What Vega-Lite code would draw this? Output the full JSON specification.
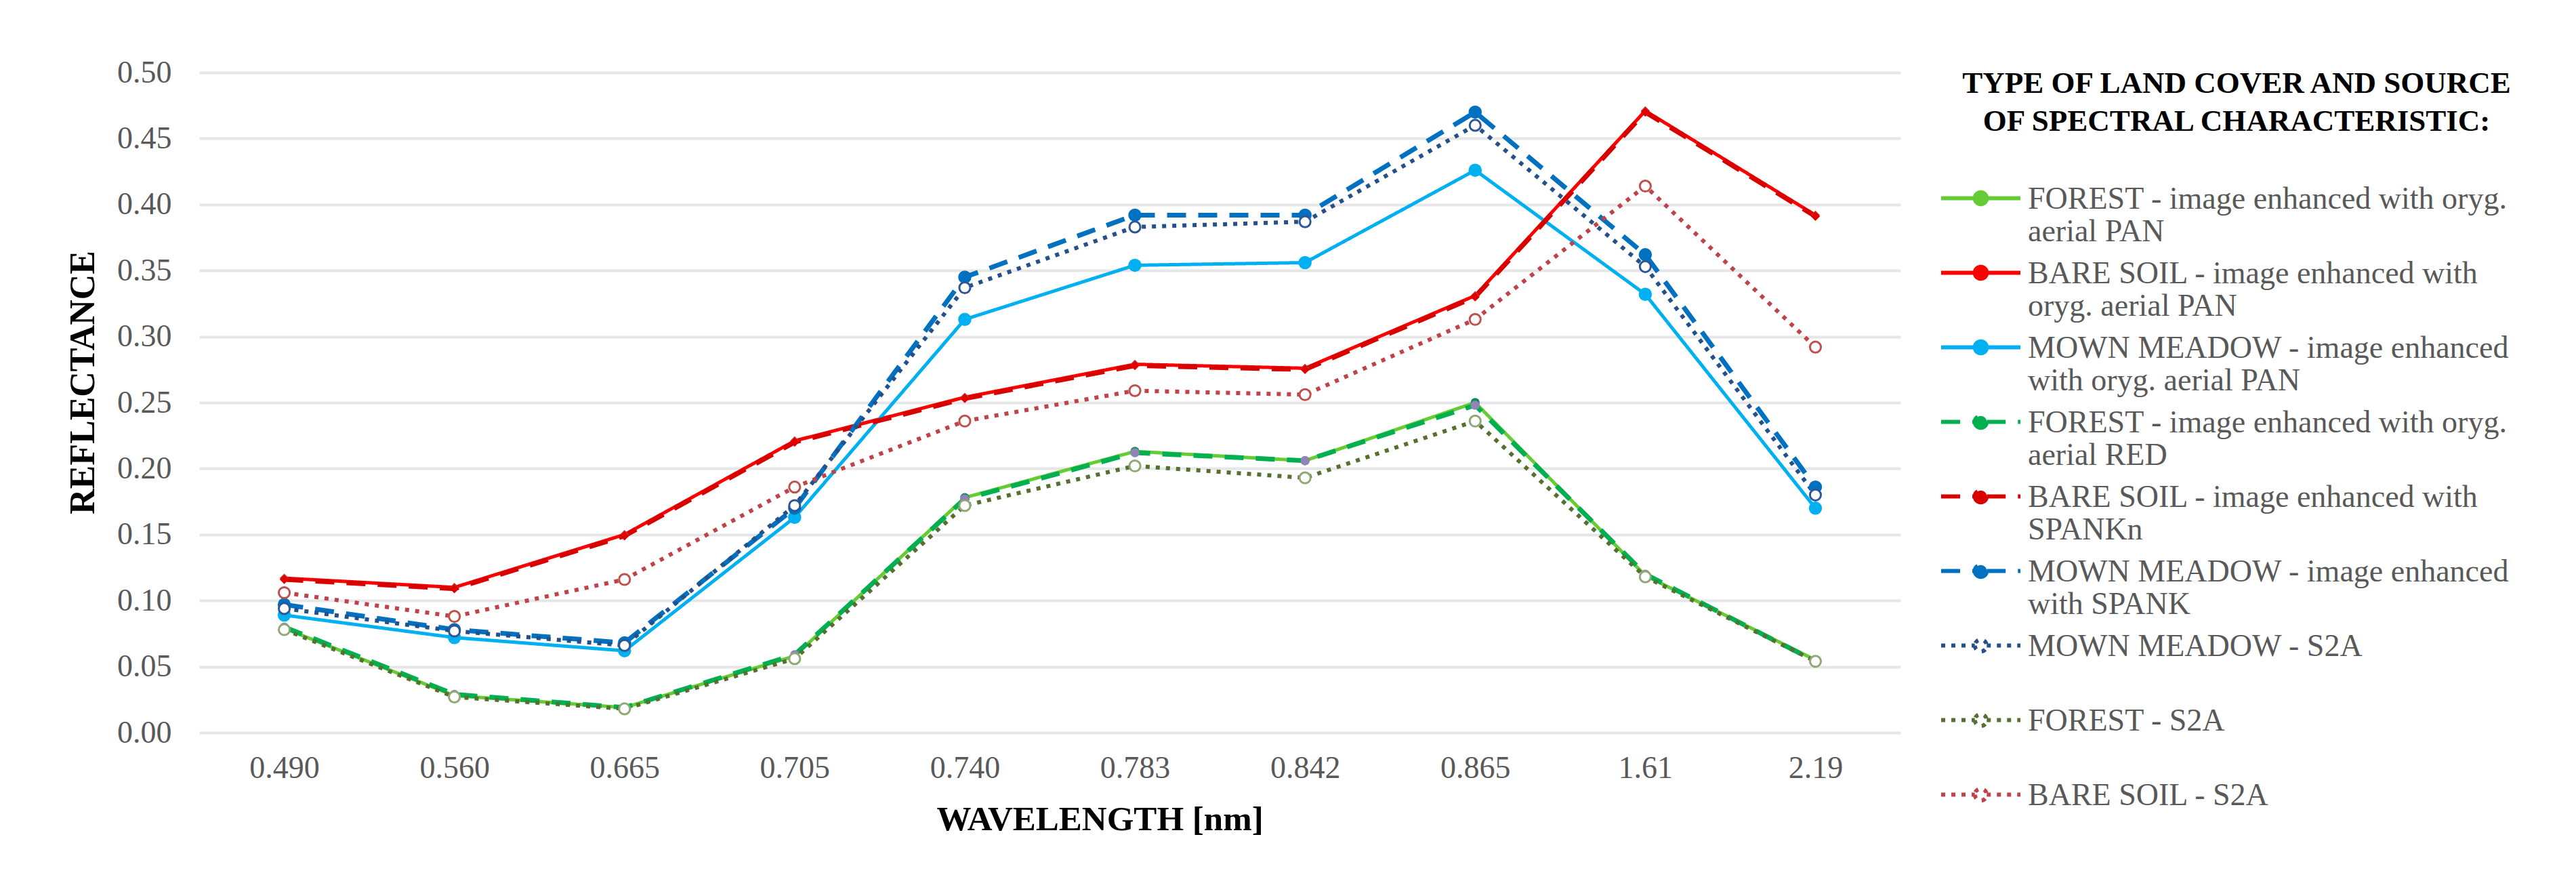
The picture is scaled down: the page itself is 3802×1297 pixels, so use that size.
{
  "$schema": "https://vega.github.io/schema/vega-lite/v6.json",
  "width": 2511,
  "height": 974,
  "autosize": {"type": "none"},
  "padding": {"left": 294, "top": 107, "right": 997, "bottom": 216},
  "background": "white",
  "config": {"view": {"stroke": null}, "font": "Liberation Serif"},
  "datasets": {
    "d": [
      {"wl": "0.490", "series": "FOREST - image enhanced with oryg.|aerial PAN", "r": 0.079},
      {"wl": "0.560", "series": "FOREST - image enhanced with oryg.|aerial PAN", "r": 0.028},
      {"wl": "0.665", "series": "FOREST - image enhanced with oryg.|aerial PAN", "r": 0.019},
      {"wl": "0.705", "series": "FOREST - image enhanced with oryg.|aerial PAN", "r": 0.058},
      {"wl": "0.740", "series": "FOREST - image enhanced with oryg.|aerial PAN", "r": 0.178},
      {"wl": "0.783", "series": "FOREST - image enhanced with oryg.|aerial PAN", "r": 0.213},
      {"wl": "0.842", "series": "FOREST - image enhanced with oryg.|aerial PAN", "r": 0.206},
      {"wl": "0.865", "series": "FOREST - image enhanced with oryg.|aerial PAN", "r": 0.250},
      {"wl": "1.61", "series": "FOREST - image enhanced with oryg.|aerial PAN", "r": 0.119},
      {"wl": "2.19", "series": "FOREST - image enhanced with oryg.|aerial PAN", "r": 0.055},

      {"wl": "0.490", "series": "BARE SOIL - image enhanced with|oryg. aerial PAN", "r": 0.117},
      {"wl": "0.560", "series": "BARE SOIL - image enhanced with|oryg. aerial PAN", "r": 0.110},
      {"wl": "0.665", "series": "BARE SOIL - image enhanced with|oryg. aerial PAN", "r": 0.150},
      {"wl": "0.705", "series": "BARE SOIL - image enhanced with|oryg. aerial PAN", "r": 0.221},
      {"wl": "0.740", "series": "BARE SOIL - image enhanced with|oryg. aerial PAN", "r": 0.254},
      {"wl": "0.783", "series": "BARE SOIL - image enhanced with|oryg. aerial PAN", "r": 0.279},
      {"wl": "0.842", "series": "BARE SOIL - image enhanced with|oryg. aerial PAN", "r": 0.276},
      {"wl": "0.865", "series": "BARE SOIL - image enhanced with|oryg. aerial PAN", "r": 0.331},
      {"wl": "1.61", "series": "BARE SOIL - image enhanced with|oryg. aerial PAN", "r": 0.471},
      {"wl": "2.19", "series": "BARE SOIL - image enhanced with|oryg. aerial PAN", "r": 0.392},

      {"wl": "0.490", "series": "MOWN MEADOW - image enhanced|with oryg. aerial PAN", "r": 0.089},
      {"wl": "0.560", "series": "MOWN MEADOW - image enhanced|with oryg. aerial PAN", "r": 0.072},
      {"wl": "0.665", "series": "MOWN MEADOW - image enhanced|with oryg. aerial PAN", "r": 0.062},
      {"wl": "0.705", "series": "MOWN MEADOW - image enhanced|with oryg. aerial PAN", "r": 0.163},
      {"wl": "0.740", "series": "MOWN MEADOW - image enhanced|with oryg. aerial PAN", "r": 0.313},
      {"wl": "0.783", "series": "MOWN MEADOW - image enhanced|with oryg. aerial PAN", "r": 0.354},
      {"wl": "0.842", "series": "MOWN MEADOW - image enhanced|with oryg. aerial PAN", "r": 0.356},
      {"wl": "0.865", "series": "MOWN MEADOW - image enhanced|with oryg. aerial PAN", "r": 0.426},
      {"wl": "1.61", "series": "MOWN MEADOW - image enhanced|with oryg. aerial PAN", "r": 0.332},
      {"wl": "2.19", "series": "MOWN MEADOW - image enhanced|with oryg. aerial PAN", "r": 0.170},

      {"wl": "0.490", "series": "FOREST - image enhanced with oryg.|aerial RED", "r": 0.080},
      {"wl": "0.560", "series": "FOREST - image enhanced with oryg.|aerial RED", "r": 0.029},
      {"wl": "0.665", "series": "FOREST - image enhanced with oryg.|aerial RED", "r": 0.019},
      {"wl": "0.705", "series": "FOREST - image enhanced with oryg.|aerial RED", "r": 0.059},
      {"wl": "0.740", "series": "FOREST - image enhanced with oryg.|aerial RED", "r": 0.177},
      {"wl": "0.783", "series": "FOREST - image enhanced with oryg.|aerial RED", "r": 0.212},
      {"wl": "0.842", "series": "FOREST - image enhanced with oryg.|aerial RED", "r": 0.206},
      {"wl": "0.865", "series": "FOREST - image enhanced with oryg.|aerial RED", "r": 0.248},
      {"wl": "1.61", "series": "FOREST - image enhanced with oryg.|aerial RED", "r": 0.120},
      {"wl": "2.19", "series": "FOREST - image enhanced with oryg.|aerial RED", "r": 0.054},

      {"wl": "0.490", "series": "BARE SOIL - image enhanced with|SPANKn", "r": 0.116},
      {"wl": "0.560", "series": "BARE SOIL - image enhanced with|SPANKn", "r": 0.109},
      {"wl": "0.665", "series": "BARE SOIL - image enhanced with|SPANKn", "r": 0.149},
      {"wl": "0.705", "series": "BARE SOIL - image enhanced with|SPANKn", "r": 0.220},
      {"wl": "0.740", "series": "BARE SOIL - image enhanced with|SPANKn", "r": 0.253},
      {"wl": "0.783", "series": "BARE SOIL - image enhanced with|SPANKn", "r": 0.278},
      {"wl": "0.842", "series": "BARE SOIL - image enhanced with|SPANKn", "r": 0.275},
      {"wl": "0.865", "series": "BARE SOIL - image enhanced with|SPANKn", "r": 0.330},
      {"wl": "1.61", "series": "BARE SOIL - image enhanced with|SPANKn", "r": 0.470},
      {"wl": "2.19", "series": "BARE SOIL - image enhanced with|SPANKn", "r": 0.391},

      {"wl": "0.490", "series": "MOWN MEADOW - image enhanced|with SPANK", "r": 0.097},
      {"wl": "0.560", "series": "MOWN MEADOW - image enhanced|with SPANK", "r": 0.078},
      {"wl": "0.665", "series": "MOWN MEADOW - image enhanced|with SPANK", "r": 0.068},
      {"wl": "0.705", "series": "MOWN MEADOW - image enhanced|with SPANK", "r": 0.170},
      {"wl": "0.740", "series": "MOWN MEADOW - image enhanced|with SPANK", "r": 0.345},
      {"wl": "0.783", "series": "MOWN MEADOW - image enhanced|with SPANK", "r": 0.392},
      {"wl": "0.842", "series": "MOWN MEADOW - image enhanced|with SPANK", "r": 0.392},
      {"wl": "0.865", "series": "MOWN MEADOW - image enhanced|with SPANK", "r": 0.470},
      {"wl": "1.61", "series": "MOWN MEADOW - image enhanced|with SPANK", "r": 0.362},
      {"wl": "2.19", "series": "MOWN MEADOW - image enhanced|with SPANK", "r": 0.186},

      {"wl": "0.490", "series": "MOWN MEADOW - S2A|", "r": 0.094},
      {"wl": "0.560", "series": "MOWN MEADOW - S2A|", "r": 0.077},
      {"wl": "0.665", "series": "MOWN MEADOW - S2A|", "r": 0.066},
      {"wl": "0.705", "series": "MOWN MEADOW - S2A|", "r": 0.172},
      {"wl": "0.740", "series": "MOWN MEADOW - S2A|", "r": 0.337},
      {"wl": "0.783", "series": "MOWN MEADOW - S2A|", "r": 0.383},
      {"wl": "0.842", "series": "MOWN MEADOW - S2A|", "r": 0.387},
      {"wl": "0.865", "series": "MOWN MEADOW - S2A|", "r": 0.460},
      {"wl": "1.61", "series": "MOWN MEADOW - S2A|", "r": 0.353},
      {"wl": "2.19", "series": "MOWN MEADOW - S2A|", "r": 0.180},

      {"wl": "0.490", "series": "FOREST - S2A|", "r": 0.078},
      {"wl": "0.560", "series": "FOREST - S2A|", "r": 0.027},
      {"wl": "0.665", "series": "FOREST - S2A|", "r": 0.018},
      {"wl": "0.705", "series": "FOREST - S2A|", "r": 0.056},
      {"wl": "0.740", "series": "FOREST - S2A|", "r": 0.172},
      {"wl": "0.783", "series": "FOREST - S2A|", "r": 0.202},
      {"wl": "0.842", "series": "FOREST - S2A|", "r": 0.193},
      {"wl": "0.865", "series": "FOREST - S2A|", "r": 0.236},
      {"wl": "1.61", "series": "FOREST - S2A|", "r": 0.118},
      {"wl": "2.19", "series": "FOREST - S2A|", "r": 0.054},

      {"wl": "0.490", "series": "BARE SOIL - S2A|", "r": 0.106},
      {"wl": "0.560", "series": "BARE SOIL - S2A|", "r": 0.088},
      {"wl": "0.665", "series": "BARE SOIL - S2A|", "r": 0.116},
      {"wl": "0.705", "series": "BARE SOIL - S2A|", "r": 0.186},
      {"wl": "0.740", "series": "BARE SOIL - S2A|", "r": 0.236},
      {"wl": "0.783", "series": "BARE SOIL - S2A|", "r": 0.259},
      {"wl": "0.842", "series": "BARE SOIL - S2A|", "r": 0.256},
      {"wl": "0.865", "series": "BARE SOIL - S2A|", "r": 0.313},
      {"wl": "1.61", "series": "BARE SOIL - S2A|", "r": 0.414},
      {"wl": "2.19", "series": "BARE SOIL - S2A|", "r": 0.292}
    ]
  },
  "data": {"name": "d"},
  "encoding": {
    "x": {
      "field": "wl", "type": "nominal",
      "scale": {"type": "point", "padding": 0.5, "domain": ["0.490", "0.560", "0.665", "0.705", "0.740", "0.783", "0.842", "0.865", "1.61", "2.19"]},
      "axis": {
        "title": "WAVELENGTH  [nm]", "titleFontSize": 51, "titleFontWeight": "bold", "titleColor": "#000000",
        "titleX": 1329, "titleY": 128, "titleBaseline": "middle", "titleAlign": "center",
        "labelAngle": 0, "labelFontSize": 46, "labelColor": "#595959", "labelPadding": 30,
        "ticks": false, "domain": false, "grid": false
      }
    },
    "y": {
      "field": "r", "type": "quantitative",
      "scale": {"domain": [0, 0.5], "nice": false, "zero": true},
      "axis": {
        "title": "REFLECTANCE", "titleFontSize": 52, "titleFontWeight": "bold", "titleColor": "#000000",
        "titleX": -172, "titleY": 457, "titleAngle": 270, "titleBaseline": "middle", "titleAlign": "center",
        "values": [0, 0.05, 0.1, 0.15, 0.2, 0.25, 0.3, 0.35, 0.4, 0.45, 0.5], "format": ".2f",
        "labelFontSize": 46, "labelColor": "#595959", "labelPadding": 41,
        "ticks": false, "domain": false, "grid": true, "gridColor": "#e6e6e6", "gridWidth": 4
      }
    }
  },
  "layer": [
    {
      "transform": [{"filter": {"field": "series", "oneOf": ["FOREST - image enhanced with oryg.|aerial PAN", "BARE SOIL - image enhanced with|oryg. aerial PAN", "MOWN MEADOW - image enhanced|with oryg. aerial PAN"]}}],
      "mark": {"type": "line", "strokeWidth": 5},
      "encoding": {
        "color": {
          "field": "series", "type": "nominal",
          "scale": {
            "domain": ["FOREST - image enhanced with oryg.|aerial PAN", "BARE SOIL - image enhanced with|oryg. aerial PAN", "MOWN MEADOW - image enhanced|with oryg. aerial PAN", "FOREST - image enhanced with oryg.|aerial RED", "BARE SOIL - image enhanced with|SPANKn", "MOWN MEADOW - image enhanced|with SPANK", "MOWN MEADOW - S2A|", "FOREST - S2A|", "BARE SOIL - S2A|"],
            "range": ["#66CC33", "#FF0000", "#00B0F0", "#00B050", "#D90000", "#0070C0", "#25508A", "#55702F", "#C0434A"]
          },
          "legend": {
            "title": ["TYPE OF LAND COVER AND SOURCE", "OF SPECTRAL CHARACTERISTIC:"],
            "orient": "none", "legendX": 2600, "legendY": -6, "padding": 0,
            "titleFontSize": 45, "titleFontWeight": "bold", "titleColor": "#000000", "titleAnchor": "middle", "titleAlign": "center", "titleLineHeight": 56, "titlePadding": 65, "titleLimit": 3000,
            "labelFontSize": 46, "labelColor": "#595959", "labelLimit": 1000, "labelOffset": 44, "labelLineHeight": 55,
            "labelExpr": "split(datum.label, '|')", "labelBaseline": "top",
            "symbolType": "M-2.6,0L-0.39,0M0.39,0L2.6,0M-0.39,0A0.39,0.39 0 1,0 0.39,0A0.39,0.39 0 1,0 -0.39,0",
            "symbolSize": 2025, "symbolStrokeWidth": 6, "rowPadding": 12,
            "encode": {
              "labels": {"update": {"dy": {"value": -21}}},
              "symbols": {"update": {"fill": {"signal": "indexof(datum.value, 'S2A') >= 0 ? 'white' : scale('color', datum.value)"}}}
            }
          }
        },
        "strokeDash": {
          "field": "series", "type": "nominal",
          "scale": {
            "domain": ["FOREST - image enhanced with oryg.|aerial PAN", "BARE SOIL - image enhanced with|oryg. aerial PAN", "MOWN MEADOW - image enhanced|with oryg. aerial PAN", "FOREST - image enhanced with oryg.|aerial RED", "BARE SOIL - image enhanced with|SPANKn", "MOWN MEADOW - image enhanced|with SPANK", "MOWN MEADOW - S2A|", "FOREST - S2A|", "BARE SOIL - S2A|"],
            "range": [[1, 0], [1, 0], [1, 0], [28, 18], [28, 18], [28, 18], [6, 9], [6, 9], [6, 9]]
          }
        }
      }
    },
    {
      "transform": [{"filter": {"field": "series", "oneOf": ["FOREST - image enhanced with oryg.|aerial RED", "BARE SOIL - image enhanced with|SPANKn", "MOWN MEADOW - image enhanced|with SPANK"]}}],
      "mark": {"type": "line", "strokeWidth": 7},
      "encoding": {
        "color": {"field": "series", "type": "nominal"},
        "strokeDash": {"field": "series", "type": "nominal"}
      }
    },
    {
      "transform": [{"filter": {"field": "series", "oneOf": ["MOWN MEADOW - S2A|", "FOREST - S2A|", "BARE SOIL - S2A|"]}}],
      "mark": {"type": "line", "strokeWidth": 6},
      "encoding": {
        "color": {"field": "series", "type": "nominal"},
        "strokeDash": {"field": "series", "type": "nominal"}
      }
    },
    {
      "transform": [{"filter": {"field": "series", "oneOf": ["FOREST - image enhanced with oryg.|aerial PAN", "BARE SOIL - image enhanced with|oryg. aerial PAN", "FOREST - image enhanced with oryg.|aerial RED", "BARE SOIL - image enhanced with|SPANKn"]}}],
      "mark": {"type": "point", "filled": true, "size": 180, "opacity": 1},
      "encoding": {
        "fill": {
          "field": "series", "type": "nominal", "legend": null,
          "scale": {
            "domain": ["FOREST - image enhanced with oryg.|aerial PAN", "BARE SOIL - image enhanced with|oryg. aerial PAN", "MOWN MEADOW - image enhanced|with oryg. aerial PAN", "FOREST - image enhanced with oryg.|aerial RED", "BARE SOIL - image enhanced with|SPANKn", "MOWN MEADOW - image enhanced|with SPANK"],
            "range": ["#128a5e", "#C8302E", "#00B0F0", "#9384B8", "#E00000", "#0070C0"]
          }
        },
        "shape": {
          "field": "series", "type": "nominal", "legend": null,
          "scale": {
            "domain": ["FOREST - image enhanced with oryg.|aerial PAN", "BARE SOIL - image enhanced with|oryg. aerial PAN", "MOWN MEADOW - image enhanced|with oryg. aerial PAN", "FOREST - image enhanced with oryg.|aerial RED", "BARE SOIL - image enhanced with|SPANKn", "MOWN MEADOW - image enhanced|with SPANK"],
            "range": ["circle", "diamond", "circle", "circle", "diamond", "circle"]
          }
        }
      }
    },
    {
      "transform": [{"filter": {"field": "series", "oneOf": ["MOWN MEADOW - image enhanced|with oryg. aerial PAN", "MOWN MEADOW - image enhanced|with SPANK"]}}],
      "mark": {"type": "point", "filled": true, "size": 380, "opacity": 1},
      "encoding": {
        "fill": {"field": "series", "type": "nominal", "legend": null},
        "shape": {"field": "series", "type": "nominal", "legend": null}
      }
    },
    {
      "transform": [{"filter": {"field": "series", "oneOf": ["MOWN MEADOW - S2A|", "FOREST - S2A|", "BARE SOIL - S2A|"]}}],
      "mark": {"type": "point", "shape": "circle", "size": 260, "filled": false, "fill": "white", "fillOpacity": 1, "strokeWidth": 3, "opacity": 1},
      "encoding": {
        "stroke": {
          "field": "series", "type": "nominal", "legend": null,
          "scale": {
            "domain": ["MOWN MEADOW - S2A|", "FOREST - S2A|", "BARE SOIL - S2A|"],
            "range": ["#2F5597", "#8FA876", "#C0504D"]
          }
        }
      }
    }
  ]
}
